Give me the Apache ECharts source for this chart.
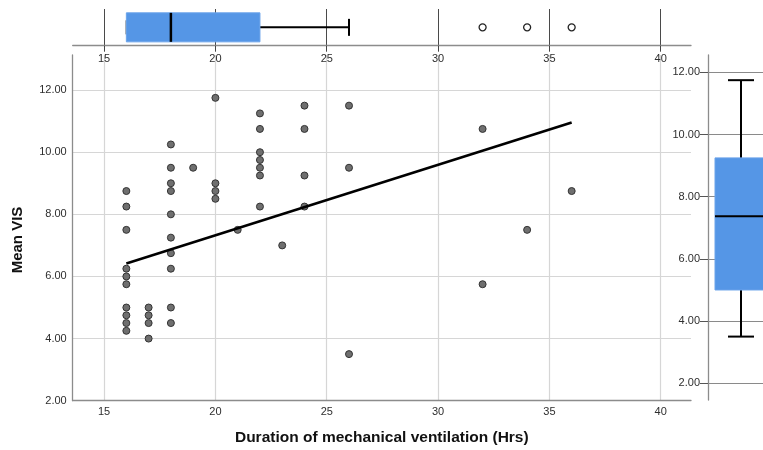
<!DOCTYPE html>
<html><head><meta charset="utf-8">
<script src="https://cdn.jsdelivr.net/npm/echarts@6/dist/echarts.min.js"></script>
<style>html,body{margin:0;padding:0;background:#fff}#c{width:763px;height:450px}</style>
</head><body><div id="c"></div>
<script>
// ---- data ----
const durationHrs = [
  16,16,16,16,16,16,16,16,16,16,
  17,17,17,17,
  18,18,18,18,18,18,18,18,18,18,
  19,
  20,20,20,20,
  21,
  22,22,22,22,22,22,22,
  23,
  24,24,24,24,
  26,26,26,
  32,32,
  34,
  36
];
const meanVIS = [
  8.75,8.25,7.5,6.25,6.0,5.75,5.0,4.75,4.5,4.25,
  5.0,4.75,4.5,4.0,
  10.25,9.5,9.0,8.75,8.0,7.25,6.75,6.25,5.0,4.5,
  9.5,
  11.75,9.0,8.75,8.5,
  7.5,
  11.25,10.75,10.0,9.75,9.5,9.25,8.25,
  7.0,
  11.5,10.75,9.25,8.25,
  11.5,9.5,3.5,
  10.75,5.75,
  7.5,
  8.75
];
const xTickValues = [15,20,25,30,35,40];
const yTickValues = [2,4,6,8,10,12];
const durationBox = [16,16,18,22,26];      // min, Q1, median, Q3, max
const durationOutliers = [32,34,36];
const visBox = [3.5,5.0,7.375,9.25,11.75];  // min, Q1, median, Q3, max
const fitX = [16,36];
const fitY = [6.42,10.96];

const FONT = '"Liberation Sans", Arial, sans-serif';
const BOX_BLUE = '#5596e6';
const LABEL = {fontSize: 11, color: '#2e2e2e', fontFamily: FONT};

const chart = echarts.init(document.getElementById('c'), null, {renderer: 'canvas'});

function renderHBox(params, api) {
  const c = api.value(0);
  const px = i => api.coord([api.value(i), c])[0];
  const cy = api.coord([api.value(3), c])[1];
  const xmin = px(1), xq1 = px(2), xmed = px(3), xq3 = px(4), xmax = px(5);
  const bh = 29, ch = 17;
  return {type: 'group', children: [
    {type: 'line', shape: {x1: xmin, y1: cy, x2: xq1, y2: cy}, style: {stroke: '#000', lineWidth: 2}},
    {type: 'line', shape: {x1: xq3, y1: cy, x2: xmax, y2: cy}, style: {stroke: '#000', lineWidth: 2}},
    {type: 'line', shape: {x1: xmin, y1: cy - 7, x2: xmin, y2: cy + 7}, style: {stroke: '#888', lineWidth: 2}},
    {type: 'line', shape: {x1: xmax, y1: cy - ch / 2, x2: xmax, y2: cy + ch / 2}, style: {stroke: '#000', lineWidth: 2}},
    {type: 'rect', shape: {x: xq1, y: cy - bh / 2, width: xq3 - xq1, height: bh}, style: {fill: BOX_BLUE, stroke: '#6aa3ea', lineWidth: 1}},
    {type: 'line', shape: {x1: xmed, y1: cy - bh / 2, x2: xmed, y2: cy + bh / 2}, style: {stroke: '#000', lineWidth: 2.5}}
  ]};
}

function renderVBox(params, api) {
  const c = api.value(0);
  const py = i => api.coord([c, api.value(i)])[1];
  const cx = api.coord([c, api.value(3)])[0];
  const ymin = py(1), yq1 = py(2), ymed = py(3), yq3 = py(4), ymax = py(5);
  const bw = 52, cw = 26;
  return {type: 'group', children: [
    {type: 'line', shape: {x1: cx, y1: ymin, x2: cx, y2: yq1}, style: {stroke: '#000', lineWidth: 2}},
    {type: 'line', shape: {x1: cx, y1: yq3, x2: cx, y2: ymax}, style: {stroke: '#000', lineWidth: 2}},
    {type: 'line', shape: {x1: cx - cw / 2, y1: ymin, x2: cx + cw / 2, y2: ymin}, style: {stroke: '#000', lineWidth: 2}},
    {type: 'line', shape: {x1: cx - cw / 2, y1: ymax, x2: cx + cw / 2, y2: ymax}, style: {stroke: '#000', lineWidth: 2}},
    {type: 'rect', shape: {x: cx - bw / 2, y: yq3, width: bw, height: yq1 - yq3}, style: {fill: BOX_BLUE, stroke: '#6aa3ea', lineWidth: 1}},
    {type: 'line', shape: {x1: cx - bw / 2, y1: ymed, x2: cx + bw / 2, y2: ymed}, style: {stroke: '#000', lineWidth: 2}}
  ]};
}

const option = {
  animation: false,
  backgroundColor: '#fff',
  grid: [
    {left: 72.7, top: 55, width: 618.3, height: 345.7, outerBoundsMode: 'none', containLabel: false},
    {left: 72.7, top: 9, width: 618.3, height: 36.7, outerBoundsMode: 'none', containLabel: false},
    {left: 708, top: 55, width: 66, height: 345, outerBoundsMode: 'none', containLabel: false}
  ],
  xAxis: [
    {gridIndex: 0, type: 'value', min: 13.59, max: 41.36,
     axisLine: {show: true, lineStyle: {color: '#8c8c8c', width: 1.3}},
     axisTick: {show: false, customValues: xTickValues},
     axisLabel: Object.assign({customValues: xTickValues, margin: 6}, LABEL),
     splitLine: {show: true, lineStyle: {color: '#d6d6d6', width: 1.2}}},
    {gridIndex: 1, type: 'value', min: 13.59, max: 41.36, position: 'bottom',
     axisLine: {show: true, lineStyle: {color: '#8c8c8c', width: 1.3}},
     axisTick: {show: true, inside: false, length: 6, customValues: xTickValues, lineStyle: {color: '#444', width: 1}},
     axisLabel: Object.assign({customValues: xTickValues, margin: 8}, LABEL),
     splitLine: {show: true, lineStyle: {color: '#4a4a4a', width: 1}}},
    {gridIndex: 2, type: 'category', data: ['VIS'], show: false}
  ],
  yAxis: [
    {gridIndex: 0, type: 'value', min: 2, max: 13.13,
     axisLine: {show: true, lineStyle: {color: '#8c8c8c', width: 1.3}},
     axisTick: {show: false, customValues: yTickValues},
     axisLabel: Object.assign({customValues: yTickValues, margin: 6, formatter: v => v.toFixed(2)}, LABEL),
     splitLine: {show: true, lineStyle: {color: '#d6d6d6', width: 1.2}}},
    {gridIndex: 1, type: 'category', data: ['Duration'], show: false},
    {gridIndex: 2, type: 'value', min: 1.46, max: 12.56, position: 'left',
     axisLine: {show: true, lineStyle: {color: '#8c8c8c', width: 1.3}},
     axisTick: {show: true, inside: false, length: 8, customValues: yTickValues, lineStyle: {color: '#555', width: 1}},
     axisLabel: Object.assign({customValues: yTickValues, margin: 8, formatter: v => v.toFixed(2)}, LABEL),
     splitLine: {show: true, lineStyle: {color: '#8a8a8a', width: 1}}}
  ],
  series: [
    {type: 'scatter', xAxisIndex: 0, yAxisIndex: 0, z: 3,
     data: durationHrs.map((d, i) => [d, meanVIS[i]]),
     symbol: 'circle', symbolSize: 7,
     itemStyle: {color: '#6f6f6f', borderColor: '#333', borderWidth: 1, opacity: 1}},
    {type: 'line', xAxisIndex: 0, yAxisIndex: 0, z: 4,
     data: fitX.map((d, i) => [d, fitY[i]]),
     showSymbol: false, symbol: 'none',
     lineStyle: {color: '#000', width: 2.6}},
    {type: 'custom', xAxisIndex: 1, yAxisIndex: 1, z: 3,
     renderItem: renderHBox,
     encode: {x: [1, 2, 3, 4, 5], y: 0},
     data: [[0].concat(durationBox)]},
    {type: 'scatter', xAxisIndex: 1, yAxisIndex: 1, z: 4,
     data: durationOutliers.map(v => [v, 0]),
     symbol: 'circle', symbolSize: 7,
     itemStyle: {color: '#fff', borderColor: '#222', borderWidth: 1.3, opacity: 1}},
    {type: 'custom', xAxisIndex: 2, yAxisIndex: 2, z: 3,
     renderItem: renderVBox,
     encode: {x: 0, y: [1, 2, 3, 4, 5]},
     data: [[0].concat(visBox)]}
  ],
  graphic: [
    {type: 'text', x: 381.8, y: 438, style: {text: 'Duration of mechanical ventilation (Hrs)', font: 'bold 15.5px ' + FONT, fill: '#111', textAlign: 'center', textVerticalAlign: 'middle'}},
    {type: 'text', x: 18, y: 240, rotation: Math.PI / 2, style: {text: 'Mean VIS', font: 'bold 15px ' + FONT, fill: '#111', textAlign: 'center', textVerticalAlign: 'middle'}}
  ]
};
chart.setOption(option);
</script>
</body></html>
